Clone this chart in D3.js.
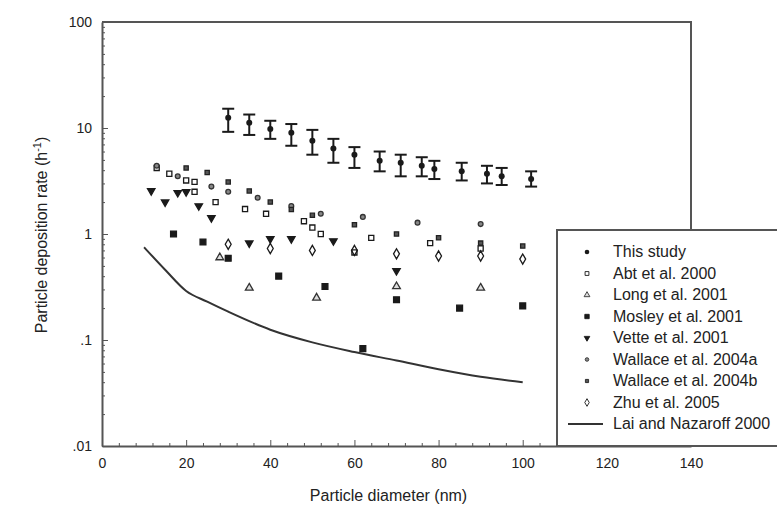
<!DOCTYPE html>
<html>
<head>
<meta charset="utf-8">
<script src="https://cdn.jsdelivr.net/npm/d3@7"></script>
<style>
  body { margin: 0; background: #fff; }
  svg { font-family: "Liberation Sans", Arial, sans-serif; }
</style>
</head>
<body>
<svg id="graph" width="777" height="510"></svg>
<script>
// data
const studyX = [30, 35, 40, 45, 50, 55, 60, 66, 71, 76, 79, 85.5, 91.5, 95, 102];
const studyY = [12.5, 11.2, 9.8, 9.0, 7.6, 6.4, 5.6, 4.9, 4.7, 4.4, 4.1, 3.9, 3.7, 3.5, 3.3];
const studyLo = [9.2, 8.6, 7.9, 6.8, 5.6, 4.7, 4.2, 3.9, 3.5, 3.5, 3.3, 3.2, 3.0, 2.9, 2.8];
const studyHi = [15.2, 13.4, 11.7, 10.9, 9.6, 7.9, 6.6, 6.0, 5.6, 5.3, 4.9, 4.7, 4.4, 4.2, 3.9];

const abtX = [13, 16, 20, 22, 22, 27, 34, 39, 48, 50, 52, 60, 64, 78, 90];
const abtY = [4.2, 3.7, 3.2, 3.1, 2.5, 2.0, 1.72, 1.55, 1.32, 1.15, 1.0, 0.67, 0.92, 0.82, 0.73];

const longX = [28, 35, 51, 70, 90];
const longY = [0.6, 0.31, 0.25, 0.32, 0.31];

const mosleyX = [17, 24, 30, 42, 53, 62, 70, 85, 100];
const mosleyY = [1.0, 0.84, 0.59, 0.4, 0.32, 0.083, 0.24, 0.2, 0.21];

const vetteX = [11.7, 15, 18, 20, 23, 26, 35, 40, 45, 55, 70];
const vetteY = [2.55, 2.0, 2.45, 2.5, 1.84, 1.42, 0.82, 0.9, 0.9, 0.86, 0.45];

const wallaceAX = [13, 18, 26, 30, 37, 45, 52, 62, 75, 90];
const wallaceAY = [4.4, 3.5, 2.8, 2.5, 2.2, 1.84, 1.55, 1.45, 1.28, 1.24];

const wallaceBX = [20, 25, 30, 35, 40, 45, 50, 60, 70, 80, 90, 100];
const wallaceBY = [4.2, 3.8, 3.1, 2.55, 2.0, 1.7, 1.5, 1.22, 1.0, 0.92, 0.82, 0.77];

const zhuX = [30, 40, 50, 60, 70, 80, 90, 100];
const zhuY = [0.8, 0.73, 0.7, 0.7, 0.65, 0.62, 0.62, 0.58];

const laiX = [10, 15, 20, 25, 30, 40, 50, 60, 70, 80, 90, 100];
const laiY = [0.75, 0.46, 0.29, 0.23, 0.185, 0.125, 0.095, 0.077, 0.064, 0.053, 0.045, 0.04];

const xTicks = [0, 20, 40, 60, 80, 100, 120, 140];
const yTicks = [0.01, 0.1, 1, 10, 100];
const yTickLabels = ['.01', '.1', '1', '10', '100'];

const legendNames = ['This study', 'Abt et al. 2000', 'Long et al. 2001', 'Mosley et al. 2001',
    'Vette et al. 2001', 'Wallace et al. 2004a', 'Wallace et al. 2004b', 'Zhu et al. 2005',
    'Lai and Nazaroff 2000'];

const svg = d3.select('#graph');
const margin = { top: 22, right: 86, bottom: 64, left: 102 };
const width = 777, height = 510;
const frameColor = '#555';
const ink = '#1a1a1a';

const xScale = d3.scaleLinear().domain([0, 140]).range([margin.left, width - margin.right]);
const yScale = d3.scaleLog().domain([0.01, 100]).range([height - margin.bottom, margin.top]);

const x0 = xScale(0), x1 = xScale(140);
const y0 = yScale(0.01), y1 = yScale(100);

// 边框 top / right
svg.append('path')
   .attr('d', `M${x0},${y1}H${x1}V${y0}`)
   .attr('fill', 'none')
   .attr('stroke', frameColor)
   .attr('stroke-width', 2);

// y 轴
const yMinor = [];
[0.01, 0.1, 1, 10].forEach(d => { for (let k = 2; k <= 9; k++) yMinor.push(d * k); });

svg.append('g')
   .attr('transform', `translate(${x0},0)`)
   .call(d3.axisLeft(yScale).tickValues(yMinor).tickSize(-3).tickFormat(''))
   .call(g => g.select('.domain').remove())
   .call(g => g.selectAll('line').attr('stroke', frameColor));

svg.append('g')
   .attr('transform', `translate(${x0},0)`)
   .call(d3.axisLeft(yScale).tickValues(yTicks).tickSizeInner(-6).tickSizeOuter(0)
        .tickPadding(10).tickFormat((d, i) => yTickLabels[i]))
   .call(g => g.select('.domain').attr('stroke', frameColor).attr('stroke-width', 2))
   .call(g => g.selectAll('line').attr('stroke', frameColor))
   .call(g => g.selectAll('text').attr('font-size', 14).attr('fill', '#222'));

// x 轴
const xMinor = d3.range(4, 140, 4).filter(d => d % 20 !== 0);

svg.append('g')
   .attr('transform', `translate(0,${y0})`)
   .call(d3.axisBottom(xScale).tickValues(xMinor).tickSize(-3).tickFormat(''))
   .call(g => g.select('.domain').remove())
   .call(g => g.selectAll('line').attr('stroke', frameColor));

svg.append('g')
   .attr('transform', `translate(0,${y0})`)
   .call(d3.axisBottom(xScale).tickValues(xTicks).tickSizeInner(-6).tickSizeOuter(0).tickPadding(12))
   .call(g => g.select('.domain').attr('stroke', frameColor).attr('stroke-width', 2))
   .call(g => g.selectAll('line').attr('stroke', frameColor))
   .call(g => g.selectAll('text').attr('font-size', 14).attr('fill', '#222'));

// 轴标题
svg.append('text')
   .attr('x', (x0 + xScale(140)) / 2 - 8)
   .attr('y', 501)
   .attr('text-anchor', 'middle')
   .attr('font-size', 16)
   .attr('fill', '#222')
   .text('Particle diameter (nm)');

const yTitle = svg.append('text')
   .attr('transform', `translate(47,235) rotate(-90)`)
   .attr('text-anchor', 'middle')
   .attr('font-size', 16)
   .attr('fill', '#222');
yTitle.append('tspan').text('Particle deposition rate (h');
yTitle.append('tspan').attr('dy', -6).attr('font-size', 11).text('-1');
yTitle.append('tspan').attr('dy', 6).text(')');

// 符号
const sym = (type, size) => d3.symbol().type(type).size(size)();
const markers = {
    abt: { d: sym(d3.symbolSquare, 26), fill: 'none', stroke: ink, rot: 0 },
    long: { d: sym(d3.symbolTriangle, 26), fill: '#ddd', stroke: '#333', rot: 0 },
    mosley: { d: sym(d3.symbolSquare, 34), fill: ink, stroke: ink, rot: 0 },
    vette: { d: sym(d3.symbolTriangle, 24), fill: ink, stroke: ink, rot: 180 },
    wallaceA: { d: sym(d3.symbolCircle, 18), fill: '#888', stroke: '#333', rot: 0 },
    wallaceB: { d: sym(d3.symbolSquare, 18), fill: '#555', stroke: '#222', rot: 0 },
    zhu: { d: sym(d3.symbolDiamond, 30), fill: 'none', stroke: ink, rot: 0 }
};

const drawSeries = (xs, ys, m, cls) => {
    svg.selectAll('.' + cls)
       .data(xs.map((x, i) => ({ x: x, y: ys[i] })))
       .enter().append('path')
       .attr('class', cls)
       .attr('d', m.d)
       .attr('transform', d => `translate(${xScale(d.x)},${yScale(d.y)}) rotate(${m.rot})`)
       .attr('fill', m.fill)
       .attr('stroke', m.stroke)
       .attr('stroke-width', 1.3);
};

drawSeries(abtX, abtY, markers.abt, 'abt');
drawSeries(longX, longY, markers.long, 'long');
drawSeries(mosleyX, mosleyY, markers.mosley, 'mosley');
drawSeries(vetteX, vetteY, markers.vette, 'vette');
drawSeries(wallaceAX, wallaceAY, markers.wallaceA, 'wallaceA');
drawSeries(wallaceBX, wallaceBY, markers.wallaceB, 'wallaceB');
drawSeries(zhuX, zhuY, markers.zhu, 'zhu');

// Lai and Nazaroff 曲线
svg.append('path')
   .datum(laiX.map((x, i) => [x, laiY[i]]))
   .attr('fill', 'none')
   .attr('stroke', '#333')
   .attr('stroke-width', 2)
   .attr('d', d3.line().x(d => xScale(d[0])).y(d => yScale(d[1])).curve(d3.curveMonotoneX));

// This study + 误差线
const study = studyX.map((x, i) => ({ x: x, y: studyY[i], lo: studyLo[i], hi: studyHi[i] }));
const eb = svg.selectAll('.err').data(study).enter().append('g').attr('class', 'err');
eb.append('line')
  .attr('x1', d => xScale(d.x)).attr('x2', d => xScale(d.x))
  .attr('y1', d => yScale(d.lo)).attr('y2', d => yScale(d.hi))
  .attr('stroke', ink).attr('stroke-width', 2);
[d => d.lo, d => d.hi].forEach(f => {
    eb.append('line')
      .attr('x1', d => xScale(d.x) - 6).attr('x2', d => xScale(d.x) + 6)
      .attr('y1', d => yScale(f(d))).attr('y2', d => yScale(f(d)))
      .attr('stroke', ink).attr('stroke-width', 2);
});
eb.append('circle')
  .attr('cx', d => xScale(d.x)).attr('cy', d => yScale(d.y))
  .attr('r', 3).attr('fill', ink);

// 图例
const lg = svg.append('g').attr('transform', 'translate(557,230)');
lg.append('rect')
  .attr('width', 240).attr('height', 216)
  .attr('fill', '#fff')
  .attr('stroke', frameColor).attr('stroke-width', 2);

const legendMarks = [null, markers.abt, markers.long, markers.mosley, markers.vette,
    markers.wallaceA, markers.wallaceB, markers.zhu, null];

legendNames.forEach((name, i) => {
    const yy = 22 + i * 21.5;
    const m = legendMarks[i];
    if (i === 0) {
        lg.append('circle').attr('cx', 30).attr('cy', yy).attr('r', 2.3).attr('fill', ink);
    } else if (i === legendNames.length - 1) {
        lg.append('line').attr('x1', 11).attr('x2', 46).attr('y1', yy).attr('y2', yy)
          .attr('stroke', '#333').attr('stroke-width', 2);
    } else {
        lg.append('path')
          .attr('d', m.d)
          .attr('transform', `translate(30,${yy}) scale(0.75) rotate(${m.rot})`)
          .attr('fill', m.fill).attr('stroke', m.stroke).attr('stroke-width', 1.2);
    }
    lg.append('text')
      .attr('x', 56).attr('y', yy + 5)
      .attr('font-size', 16)
      .attr('fill', '#222')
      .text(name);
});
</script>
</body>
</html>
